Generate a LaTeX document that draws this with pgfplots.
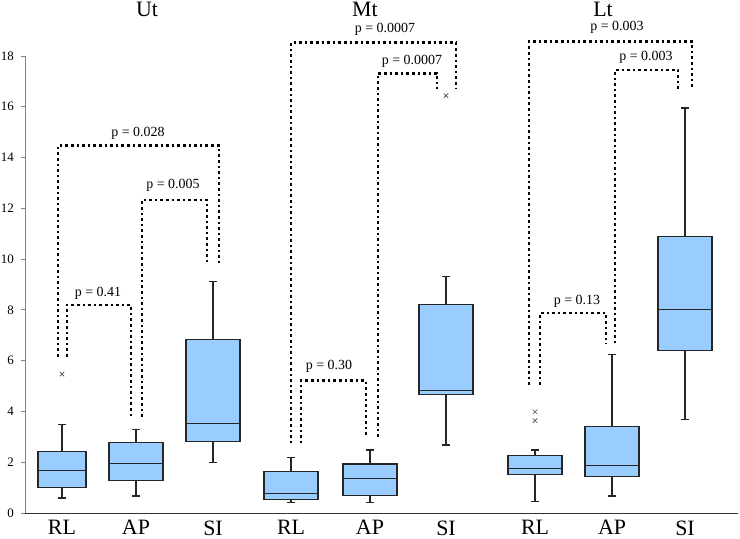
\documentclass[border=0pt]{standalone}
\usepackage{pgfplots}
\pgfplotsset{compat=1.18}
\usepgfplotslibrary{statistics}
\usepackage{fontspec}
\setmainfont{Liberation Serif}
\definecolor{boxblue}{HTML}{99CCFF}
\tikzset{br/.style={line width=2.6bp, dash pattern=on 2.6bp off 3.0bp, black}}
\tikzset{pl/.style={font=\fontsize{14}{14}\selectfont, anchor=center, inner sep=0pt}}
\tikzset{ttl/.style={font=\fontsize{22}{22}\selectfont, anchor=base, inner sep=0pt}}
\begin{document}
\begin{tikzpicture}
\path (0bp,0bp) rectangle (740bp,539bp);
\begin{axis}[
  at={(25bp,26bp)}, anchor=south west,
  scale only axis, width=713bp, height=457bp,
  xmin=0.25, xmax=7.38, ymin=0, ymax=18,
  clip=false,
  axis x line*=bottom, axis y line*=left,
  x axis line style={black!80, line width=0.9pt, -},
  y axis line style={gray, line width=0.9pt, -},
  xtick={0.62,1.36,2.13,2.91,3.70,4.46,5.35,6.12,6.85},
  xticklabels={RL,AP,SI,RL,AP,SI,RL,AP,SI},
  xtick style={draw=none},
  xticklabel style={font=\fontsize{22}{22}\selectfont},
  ytick={0,2,4,6,8,10,12,14,16,18},
  ytick style={gray, line width=0.9pt},
  tick align=outside, major tick length=4bp,
  yticklabel style={font=\fontsize{13}{13}\selectfont, inner sep=0pt, xshift=-7bp},
  /pgf/number format/assume math mode=true,
  boxplot/draw direction=y,
]
% Ut
\addplot[draw=black!85, line width=1.1pt, fill=boxblue, mark=x, mark size=3.2, mark options={draw=black!70, line width=0.6pt, fill=none}, boxplot prepared={draw position=0.62, lower whisker=0.59, lower quartile=1.02, median=1.69, upper quartile=2.44, upper whisker=3.5, box extend=0.48, whisker extend=0.08}] coordinates {(0,5.47)};
\addplot[draw=black!85, line width=1.1pt, fill=boxblue, boxplot prepared={draw position=1.36, lower whisker=0.67, lower quartile=1.29, median=1.96, upper quartile=2.77, upper whisker=3.28, box extend=0.54, whisker extend=0.08}] coordinates {};
\addplot[draw=black!85, line width=1.1pt, fill=boxblue, boxplot prepared={draw position=2.13, lower whisker=1.98, lower quartile=2.81, median=3.53, upper quartile=6.85, upper whisker=9.11, box extend=0.54, whisker extend=0.08}] coordinates {};
% Mt
\addplot[draw=black!85, line width=1.1pt, fill=boxblue, boxplot prepared={draw position=2.91, lower whisker=0.41, lower quartile=0.54, median=0.78, upper quartile=1.63, upper whisker=2.19, box extend=0.54, whisker extend=0.08}] coordinates {};
\addplot[draw=black!85, line width=1.1pt, fill=boxblue, boxplot prepared={draw position=3.70, lower whisker=0.41, lower quartile=0.70, median=1.35, upper quartile=1.93, upper whisker=2.48, box extend=0.54, whisker extend=0.08}] coordinates {};
\addplot[draw=black!85, line width=1.1pt, fill=boxblue, mark=x, mark size=3.2, mark options={draw=black!70, line width=0.6pt, fill=none}, boxplot prepared={draw position=4.46, lower whisker=2.68, lower quartile=4.67, median=4.82, upper quartile=8.20, upper whisker=9.33, box extend=0.54, whisker extend=0.08}] coordinates {(0,16.44)};
% Lt
\addplot[draw=black!85, line width=1.1pt, fill=boxblue, mark=x, mark size=3.2, mark options={draw=black!70, line width=0.6pt, fill=none}, boxplot prepared={draw position=5.35, lower whisker=0.47, lower quartile=1.51, median=1.75, upper quartile=2.26, upper whisker=2.48, box extend=0.54, whisker extend=0.08}] coordinates {(0,3.99) (0,3.64)};
\addplot[draw=black!85, line width=1.1pt, fill=boxblue, boxplot prepared={draw position=6.12, lower whisker=0.67, lower quartile=1.43, median=1.88, upper quartile=3.39, upper whisker=6.26, box extend=0.54, whisker extend=0.08}] coordinates {};
\addplot[draw=black!85, line width=1.1pt, fill=boxblue, boxplot prepared={draw position=6.85, lower whisker=3.67, lower quartile=6.41, median=8.02, upper quartile=10.88, upper whisker=15.95, box extend=0.54, whisker extend=0.08}] coordinates {};

% Ut brackets
\draw[br] (axis cs:0.58,6.16) -- (axis cs:0.58,14.47) -- (axis cs:2.19,14.47) -- (axis cs:2.19,9.77);
\draw[br] (axis cs:1.42,3.79) -- (axis cs:1.42,12.33) -- (axis cs:2.07,12.33) -- (axis cs:2.07,9.77);
\draw[br] (axis cs:0.67,6.16) -- (axis cs:0.67,8.19) -- (axis cs:1.31,8.19) -- (axis cs:1.31,3.79);
\node[pl] at (axis cs:1.38,14.97) {p = 0.028};
\node[pl] at (axis cs:1.73,12.92) {p = 0.005};
\node[pl] at (axis cs:0.98,8.66) {p = 0.41};
% Mt brackets
\draw[br] (axis cs:2.91,2.74) -- (axis cs:2.91,18.52) -- (axis cs:4.56,18.52) -- (axis cs:4.56,16.69);
\draw[br] (axis cs:3.78,3.0) -- (axis cs:3.78,17.32) -- (axis cs:4.37,17.32) -- (axis cs:4.37,16.69);
\draw[br] (axis cs:3.01,2.74) -- (axis cs:3.01,5.21) -- (axis cs:3.66,5.21) -- (axis cs:3.66,3.0);
\node[pl] at (axis cs:3.85,19.06) {p = 0.0007};
\node[pl] at (axis cs:4.12,17.80) {p = 0.0007};
\node[pl] at (axis cs:3.29,5.79) {p = 0.30};
% Lt brackets
\draw[br] (axis cs:5.29,5.04) -- (axis cs:5.29,18.56) -- (axis cs:6.92,18.56) -- (axis cs:6.92,16.69);
\draw[br] (axis cs:6.15,6.68) -- (axis cs:6.15,17.45) -- (axis cs:6.78,17.45) -- (axis cs:6.78,16.69);
\draw[br] (axis cs:5.40,5.04) -- (axis cs:5.40,7.87) -- (axis cs:6.06,7.87) -- (axis cs:6.06,6.68);
\node[pl] at (axis cs:6.17,19.14) {p = 0.003};
\node[pl] at (axis cs:6.46,17.96) {p = 0.003};
\node[pl] at (axis cs:5.77,8.35) {p = 0.13};
% titles
\node[ttl] at (axis cs:1.47,19.56) {Ut};
\node[ttl] at (axis cs:3.65,19.56) {Mt};
\node[ttl] at (axis cs:6.03,19.56) {Lt};
\end{axis}
\end{tikzpicture}
\end{document}
